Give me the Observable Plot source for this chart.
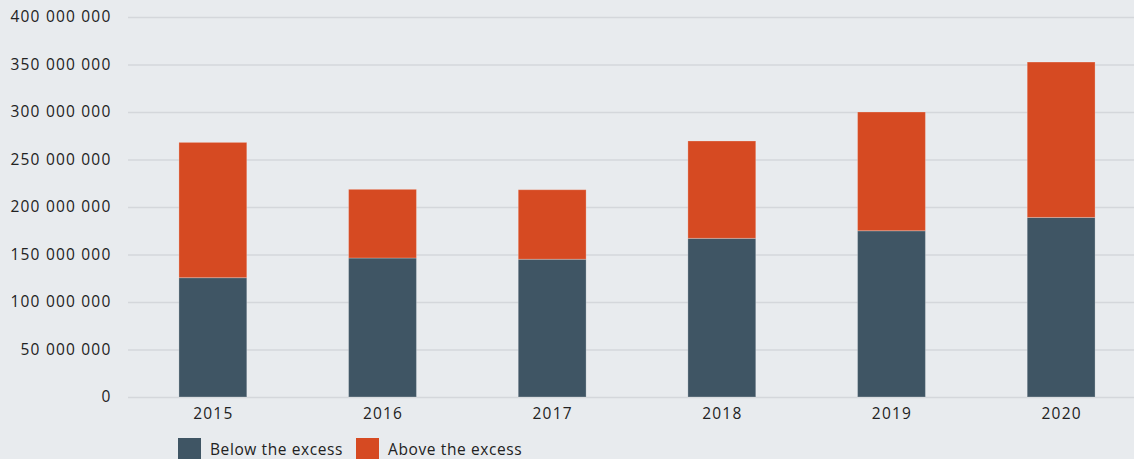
<!DOCTYPE html>
<html>
<head>
<meta charset="utf-8">
<script src="https://cdn.jsdelivr.net/npm/d3@7"></script>
<script src="https://cdn.jsdelivr.net/npm/@observablehq/plot@0.6"></script>
<style>
  html, body { margin: 0; padding: 0; background: #e8ebee; }
  body { width: 1134px; height: 459px; overflow: hidden; font-family: "Open Sans", sans-serif; color: #222; }
  #legend { position: absolute; left: 178px; top: 438px; display: flex; align-items: center; font-size: 15.5px; letter-spacing: 0.6px; }
  .item { display: flex; align-items: center; margin-right: 13px; }
  .sw { width: 23px; height: 22px; margin-right: 9px; }
</style>
</head>
<body>
<div id="chart"></div>
<div id="legend"></div>
<script>
const years = ["2015", "2016", "2017", "2018", "2019", "2020"];
const below = [125600000, 146300000, 145000000, 167000000, 175000000, 189000000];
const above = [142400000, 72300000, 73200000, 102500000, 125000000, 163600000];
const seriesNames = ["Below the excess", "Above the excess"];
const seriesColors = ["#3f5564", "#d64a22"];
const yTicks = [0, 50000000, 100000000, 150000000, 200000000, 250000000, 300000000, 350000000, 400000000];

const data = [];
years.forEach((y, i) => {
  data.push({year: y, series: seriesNames[0], value: below[i]});
  data.push({year: y, series: seriesNames[1], value: above[i]});
});

const fmt = v => d3.format(",")(v).replace(/,/g, " ");

const chart = Plot.plot({
  width: 1134,
  height: 428,
  marginLeft: 128,
  marginRight: 0,
  marginTop: 17,
  marginBottom: 31,
  style: {background: "#e8ebee", fontFamily: "Open Sans, sans-serif", fontSize: "15.5px", color: "#222", letterSpacing: "1.2px"},
  x: {domain: years, paddingInner: 0.6, paddingOuter: 0.2, insetLeft: 17, insetRight: 5, round: false, label: null, tickSize: 0, tickPadding: 10},
  y: {domain: [0, 400000000], ticks: yTicks, tickFormat: fmt, label: null, tickSize: 0, tickPadding: 17},
  color: {domain: seriesNames, range: seriesColors},
  marks: [
    Plot.ruleY(yTicks, {stroke: "#d4d7db", strokeWidth: 1.5}),
    Plot.barY(data, {x: "year", y: "value", fill: "series", stroke: "#ffffff", strokeOpacity: 0.25, strokeWidth: 1, order: seriesNames}),
    Plot.axisY({ticks: yTicks, tickFormat: fmt, tickSize: 0, tickPadding: 17}),
    Plot.axisX({tickSize: 0, tickPadding: 10})
  ]
});
document.getElementById("chart").appendChild(chart);

const legend = document.getElementById("legend");
seriesNames.forEach((n, i) => {
  const it = document.createElement("div");
  it.className = "item";
  const sw = document.createElement("div");
  sw.className = "sw";
  sw.style.background = seriesColors[i];
  const t = document.createElement("span");
  t.textContent = n;
  it.appendChild(sw); it.appendChild(t);
  legend.appendChild(it);
});
</script>
</body>
</html>
